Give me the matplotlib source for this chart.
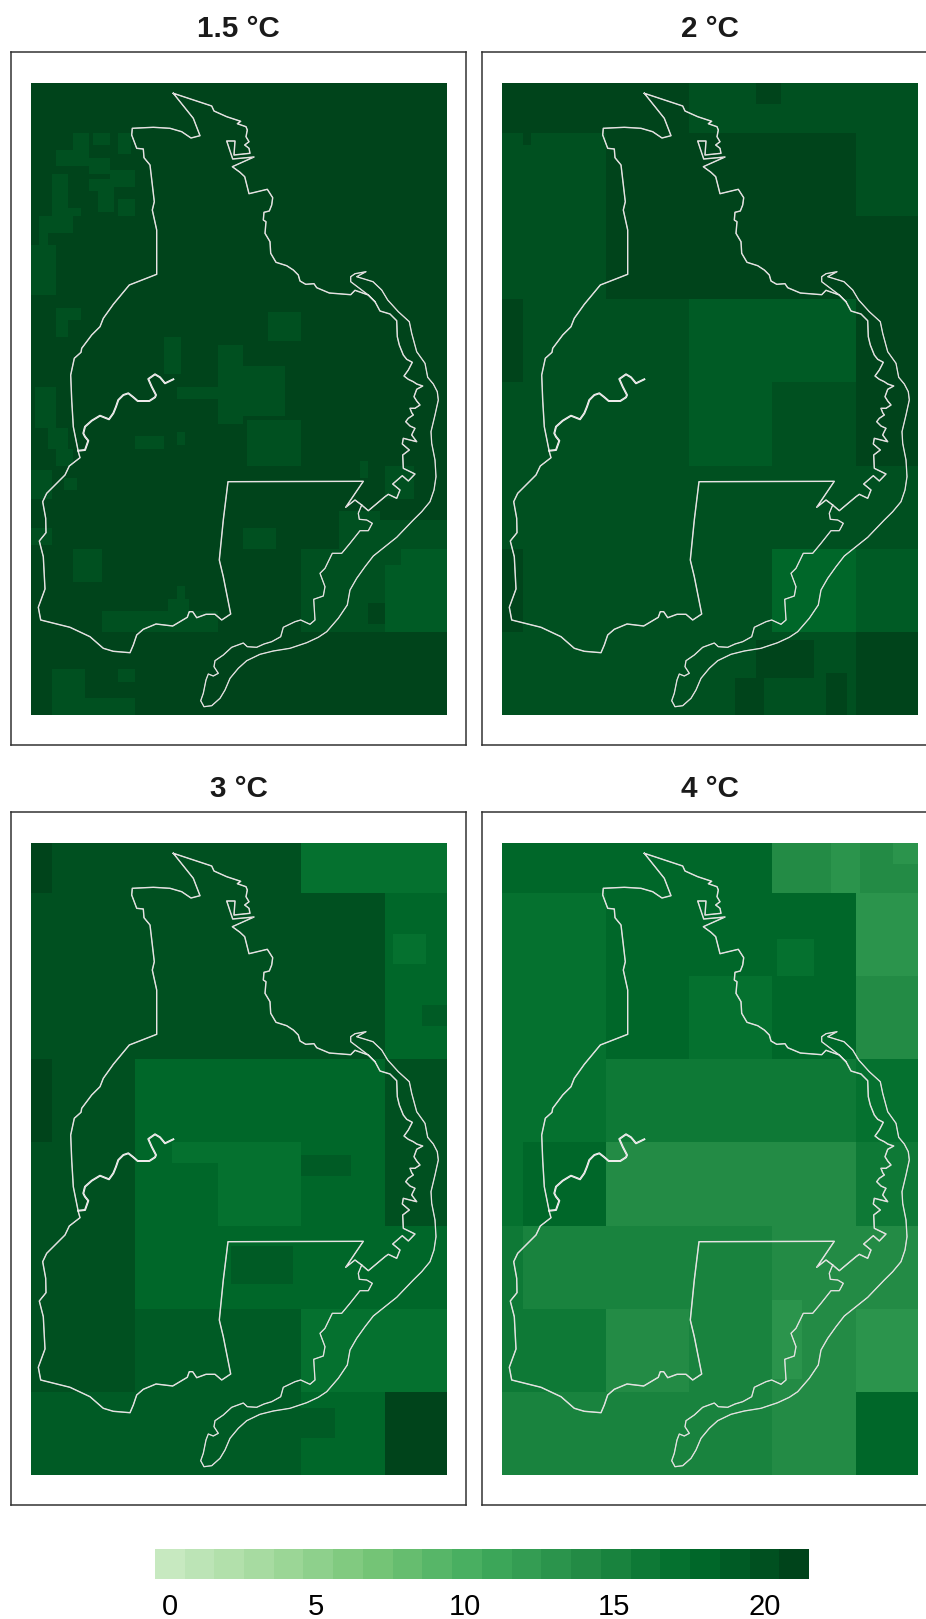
import matplotlib
matplotlib.use("Agg")
import matplotlib.pyplot as plt
import numpy as np
from matplotlib.colors import LinearSegmentedColormap, ListedColormap, Normalize
from matplotlib.cm import ScalarMappable

plt.rcParams['font.family'] = ['Liberation Sans', 'DejaVu Sans']

titles = ["1.5 °C", "2 °C", "3 °C", "4 °C"]
bar_labels = ["0", "5", "10", "15", "20"]
ramp = ["#c7e9c0", "#a1d99b", "#74c476", "#41ab5d", "#238b45", "#006d2c", "#00441b"]

# map coordinates of the coarse climate cells
block_x = [31, 51.7, 135, 218, 301, 385, 447]
block_y = [83, 132, 215, 298, 381.5, 465, 548, 632, 715]

# class per coarse cell, rows from north to south
blocks_15 = [
    [21, 21, 21, 21, 21, 21],
    [21, 21, 21, 21, 21, 21],
    [21, 21, 21, 21, 21, 21],
    [21, 21, 21, 21, 21, 21],
    [21, 21, 21, 21, 21, 21],
    [21, 21, 21, 21, 21, 21],
    [21, 21, 21, 21, 20, 19],
    [21, 21, 21, 21, 21, 21],
]
blocks_2 = [
    [21, 21, 21, 20, 20, 20],
    [20, 20, 21, 21, 21, 20],
    [20, 20, 21, 21, 21, 21],
    [21, 20, 20, 19, 19, 21],
    [20, 20, 20, 19, 20, 21],
    [20, 20, 20, 20, 20, 20],
    [21, 20, 20, 20, 18, 19],
    [20, 20, 20, 20, 20, 21],
]
blocks_3 = [
    [21, 20, 20, 20, 17, 17],
    [20, 20, 20, 20, 20, 18],
    [20, 20, 20, 20, 20, 18],
    [21, 20, 18, 18, 18, 20],
    [20, 20, 18, 17, 18, 20],
    [20, 20, 18, 18, 18, 18],
    [20, 20, 19, 19, 17, 17],
    [19, 19, 19, 19, 18, 21],
]
blocks_4 = [
    [18, 18, 18, 18, 14, 14],
    [17, 17, 18, 18, 18, 13],
    [17, 17, 18, 17, 18, 14],
    [17, 17, 16, 16, 16, 17],
    [17, 18, 14, 14, 14, 16],
    [16, 15, 15, 15, 14, 14],
    [16, 16, 14, 15, 14, 13],
    [15, 15, 15, 15, 14, 18],
]

# finer patches: x0, x1, y0, y1, class
patches_15 = [
    (73, 90, 133, 152, 20), (93, 108, 133, 145, 20), (118, 132, 133, 152, 20),
    (57, 88, 150, 168, 20), (52, 67, 173, 217, 20), (67, 80, 208, 216, 20),
    (88, 108, 178, 190, 20), (98, 113, 185, 210, 20), (118, 135, 198, 216, 20),
    (110, 135, 170, 185, 20), (90, 108, 158, 173, 20), (40, 72, 217, 233, 20),
    (32, 55, 245, 295, 20), (38, 48, 233, 245, 20), (57, 80, 308, 320, 20),
    (57, 67, 320, 337, 20), (35, 57, 387, 427, 20), (47, 68, 428, 447, 20),
    (55, 72, 447, 467, 20), (32, 50, 470, 500, 20), (63, 77, 478, 490, 20),
    (218, 243, 345, 425, 20), (242, 285, 367, 415, 20), (268, 300, 312, 340, 20),
    (247, 300, 420, 465, 20), (163, 180, 338, 373, 20), (177, 217, 387, 400, 20),
    (137, 163, 435, 450, 20), (177, 185, 433, 443, 20), (383, 413, 467, 497, 20),
    (360, 368, 462, 480, 20), (337, 360, 510, 520, 20), (102, 220, 610, 632, 20),
    (170, 187, 600, 617, 20), (177, 185, 587, 600, 20), (73, 100, 550, 583, 20),
    (52, 135, 698, 715, 20), (52, 83, 670, 698, 20), (118, 135, 670, 683, 20),
    (31, 53, 527, 543, 20), (245, 275, 527, 547, 20), (340, 380, 510, 556, 20),
    (382, 447, 520, 548, 20), (385, 403, 550, 566, 20), (370, 383, 603, 623, 21),
]
patches_2 = [
    (286, 342, 640, 679, 21), (264, 292, 679, 715, 21), (356, 376, 674, 715, 21),
    (286, 309, 83, 104, 21), (51, 60, 132, 147, 21),
]
patches_3 = [
    (395, 425, 175, 205, 17), (173, 287, 383, 402, 17), (260, 300, 422, 465, 17),
    (303, 353, 393, 417, 19), (230, 293, 485, 524, 19), (302, 333, 650, 679, 19),
    (423, 447, 247, 264, 19),
]
patches_4 = [
    (359, 389, 85, 131, 13), (422, 446, 85, 104, 13), (301, 330, 540, 620, 13),
    (226, 259, 548, 587, 15), (305, 345, 180, 215, 17), (52, 90, 150, 190, 17),
]
all_blocks = [blocks_15, blocks_2, blocks_3, blocks_4]
all_patches = [patches_15, patches_2, patches_3, patches_4]

# outlines, same coordinates as the cells
north_x = [173.3, 211.7, 214, 226.7, 240.7, 237.3, 246, 247.3, 246, 249, 244.7, 249, 250, 234, 235, 226.7,
           232.7, 254, 232.3, 240, 244.7, 249, 267.3, 272.7, 271.7, 269.3, 264, 263.3, 266, 265, 270, 270.7,
           276, 286.7, 293.3, 298.3, 300, 305.7, 314, 316.7, 329.3, 350.7, 355, 368.3, 375, 380, 390, 396.7,
           397.3, 399.3, 403.3, 406.7, 412.3, 408.3, 404, 408.3, 413.3, 416.7, 422.7, 416.7, 414, 416.7, 420,
           415, 410, 411.7, 413.3, 408.3, 405.7, 410, 415, 412.7, 411.7, 416.7, 403.3,
           402.3, 409.3, 402.7, 403.3, 415, 408.3, 402.3, 392.7, 400, 396.7, 388.3, 385, 368.3, 361.7, 355,
           345.7, 363.3, 228, 223.3, 219.3, 223.3, 230.7, 221.7, 215, 206, 196.7, 192.7, 189.3, 187.3, 172.7,
           156, 143.3, 136.7, 133.3, 130, 113.3, 103.3, 90, 70, 40.7, 38.3, 45, 43.3, 39.3, 46, 45.7, 42.7,
           46.7, 65, 69.3, 80, 78.3, 73.3, 71.7, 70.7, 74.3, 81, 81.7, 91.7, 100, 103.3, 113.3, 129.3, 156.7,
           156.7, 152.3, 154.3, 150, 144, 143.3, 136.7, 131.7, 132.3, 153.3, 170, 181.7, 191, 200, 193.3, 173.3]
north_y = [93.3, 106, 111, 116.7, 121.3, 123.7, 126.7, 130, 136.7, 141.7, 145, 148.3, 153.3, 155, 141, 141,
           159, 157, 166.7, 172.3, 176.7, 193.7, 189.3, 197.7, 205, 211, 212.3, 220, 221.7, 233.3, 241.7, 253.3,
           262.3, 265.7, 270, 275, 281, 284.3, 283.7, 287.7, 293, 294.7, 290.3, 295, 301.7, 311, 314, 320.7,
           336.7, 345, 355, 359.3, 362.3, 370, 376, 379.3, 381.7, 384, 386, 389.3, 396.7, 401, 405,
           408.3, 408.3, 412.7, 415, 418.3, 421.7, 426, 428.3, 432.7, 435, 441.7, 438.3,
           444, 450, 455, 468.3, 474, 481, 475.7, 484, 490, 498.3, 494.3, 496.7, 510.7, 505, 500,
           507.3, 481.3, 481.7, 520, 560, 576.7, 614, 620, 614.3, 614.3, 617.7, 611.7, 611.7, 617.3, 626,
           624, 629.3, 635, 645, 652.7, 651.3, 648.3, 636.7, 627.3, 620, 607.3, 589, 556.7, 541, 532.7, 518.3, 501.7,
           493.3, 475, 466, 457.7, 451.7, 426.7, 400, 375, 358.3, 352.3, 348.3, 335, 326.7, 318.3, 304.3, 285, 274.3,
           230, 210, 201.7, 165, 157.7, 149, 148.3, 135, 128.3, 127.3, 128.3, 131.7, 138, 135.7, 118.3, 93.3]
east_x = [375, 368.3, 350.7, 350.7, 355, 366, 356.7, 373, 381.7, 387.7, 398.3, 409.3, 411.7, 416.7, 425, 427.7,
          433.3, 437.3, 438.3, 435, 431, 431.7, 435, 436, 434, 430, 421.7, 413.3, 396.7, 373.3, 365, 356.7, 350,
          347.3, 338.3, 326.7, 318.3, 306.7, 290, 273.3, 260, 246.7, 238.3, 230, 225, 220, 211.7, 204, 200.7, 203.3,
          206, 208.3, 213.3, 218.3, 214, 215, 223.3, 231.7, 243.3, 247.3,
          256.7, 264, 271.7, 280.7, 283.3, 295, 300.7, 310, 315, 313.7, 323.3, 325, 320, 325, 332.3, 341.7, 350,
          360, 368.3, 372.3, 366.7, 359.3, 358.3, 361.7]
east_y = [301.7, 295, 281.7, 276.7, 273.7, 271.7, 276.7, 281.7, 290, 300, 311.7, 321.7, 333.3, 351.7, 363.3, 377.3,
          384, 391.7, 400, 415, 431.7, 443.3, 460, 476.7, 490, 501.7, 511.7, 520, 537.3, 556, 566.7, 578.3, 590,
          605, 618.3, 631.7, 637.3, 642.7, 648.3, 651, 654.3, 660.7, 668.3, 678.3, 690, 698.3, 705.7, 706.7, 700.7, 693.3,
          680, 674, 676, 673.3, 666.7, 660.7, 655, 647.3, 643, 646.7,
          647.3, 644, 641.7, 636.7, 627.3, 621.7, 620, 624.3, 620, 599.3, 596, 586.7, 573.3, 568.3, 553.3, 553.3, 543.3,
          530.7, 530.7, 523.3, 520, 519.3, 513.3, 505]
river_x = [78.3, 85, 88.3, 85, 83.3, 85, 91.7, 100, 109, 113.3, 116, 118.3, 123.3, 128.3, 132.7, 137.7, 149.3, 155,
           156, 151.7, 148.3, 155, 160, 165, 173.3]
river_y = [450.7, 450, 440.7, 436.7, 433.3, 426.7, 420.7, 415.7, 419.3, 413.3, 406.7, 400, 395, 393.3, 396.7, 401,
           401, 397.3, 395, 386.7, 379, 374.3, 377.3, 383.3, 379.3]

W, H = 926, 1619
frame_x = [10.7, 481.7]
frame_y = [52, 812]
frame_w, frame_h = 455.6, 693

ramp_cmap = LinearSegmentedColormap.from_list("greens", ramp)
cmap = ListedColormap([ramp_cmap(i / 21) for i in range(22)])
norm = Normalize(-0.5, 21.5)


def fig_rect(left, top, width, height):
    return [left / W, 1 - (top + height) / H, width / W, height / H]


def fine_grid(blocks, patches):
    # 20 fine cells to one coarse cell
    xe = np.linspace(31, 447, 101)
    ye = np.linspace(83, 715, 153)
    xc = (xe[:-1] + xe[1:]) / 2
    yc = (ye[:-1] + ye[1:]) / 2
    col = np.searchsorted(block_x, xc) - 1
    row = np.searchsorted(block_y, yc) - 1
    z = np.array(blocks)[np.ix_(np.clip(row, 0, 7), np.clip(col, 0, 5))].astype(float)
    for x0, x1, y0, y1, val in patches:
        z[np.ix_((yc >= y0) & (yc <= y1), (xc >= x0) & (xc <= x1))] = val
    return xe, ye, z


fig = plt.figure(figsize=(W / 100, H / 100), dpi=100)

for i in range(4):
    ax = fig.add_axes(fig_rect(frame_x[i % 2], frame_y[i // 2], frame_w, frame_h))
    xe, ye, z = fine_grid(all_blocks[i], all_patches[i])
    ax.pcolormesh(xe, ye, z, cmap=cmap, norm=norm, linewidth=0, rasterized=True)
    for xs, ys, lw in [(north_x, north_y, 1.0), (east_x, east_y, 0.9), (river_x, river_y, 1.4)]:
        ax.plot(xs, ys, color="white", lw=lw, solid_joinstyle="round")
        ax.plot(xs, ys, color="#c9b8bc", lw=0.3, solid_joinstyle="round")
    ax.set_xlim(10.7, 466.3)
    ax.set_ylim(745, 52)
    ax.set_xticks([])
    ax.set_yticks([])
    for s in ax.spines.values():
        s.set_color("#333333")
        s.set_linewidth(1.1)
    ax.set_title(titles[i], fontsize=21.3, fontweight="bold", color="#1a1a1a", pad=10.5)

cax = fig.add_axes(fig_rect(154.8, 1548.8, 654.2, 30.5))
cb = fig.colorbar(ScalarMappable(norm=norm, cmap=cmap), cax=cax, orientation="horizontal")
cb.set_ticks([0, 4.92, 9.93, 14.95, 20], labels=bar_labels)
cb.minorticks_off()
cb.outline.set_visible(False)
cb.ax.tick_params(length=0, labelsize=21, pad=10, labelcolor="black")

fig.savefig("out.png", dpi=100)
